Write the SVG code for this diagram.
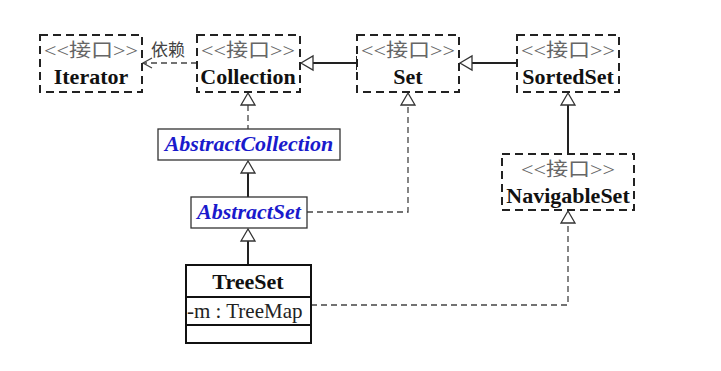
<svg xmlns="http://www.w3.org/2000/svg" width="721" height="371" viewBox="0 0 721 371">
  <defs>
    <style>
      .iface { fill: #fff; stroke: #222; stroke-width: 2; stroke-dasharray: 8 5; }
      .cls { fill: #fff; stroke: #333; stroke-width: 1.3; }
      .concrete { fill: #fff; stroke: #111; stroke-width: 2; }
      .stereo { font-family: "Liberation Serif", "Noto Sans CJK SC", serif; font-size: 19px; fill: #666; text-anchor: middle; }
      .name { font-family: "Liberation Serif", serif; font-size: 22px; font-weight: bold; fill: #111; text-anchor: middle; }
      .abstract { font-family: "Liberation Serif", serif; font-size: 22px; font-weight: bold; font-style: italic; fill: #1a1acc; text-anchor: middle; }
      .attr { font-family: "Liberation Serif", serif; font-size: 21px; fill: #222; }
      .label { font-family: "Liberation Serif", "Noto Sans CJK SC", serif; font-size: 17px; fill: #444; }
      .solid { fill: none; stroke: #222; stroke-width: 2; }
      .dashed { fill: none; stroke: #444; stroke-width: 1.3; stroke-dasharray: 6 4; }
      .tri { fill: #fff; stroke: #333; stroke-width: 1.3; }
    </style>
    <marker id="dep" markerWidth="12" markerHeight="12" refX="10" refY="6" orient="auto" markerUnits="userSpaceOnUse">
      <path d="M1,1 L10,6 L1,11" fill="none" stroke="#444" stroke-width="1.3"/>
    </marker>
  </defs>

  <!-- connectors -->
  <g id="connectors">
    <!-- Collection depends on Iterator -->
    <line class="dashed" x1="197" y1="63" x2="143" y2="63" marker-end="url(#dep)"/>
    <text class="label" x="151" y="56">依赖</text>
    <!-- Set extends Collection -->
    <line class="solid" x1="313" y1="63" x2="357" y2="63"/>
    <line x1="357" y1="56" x2="357" y2="70" stroke="#222" stroke-width="2"/>
    <path class="tri" d="M301,63 L313,56 L313,70 Z"/>
    <!-- SortedSet extends Set -->
    <line class="solid" x1="472" y1="63" x2="517" y2="63"/>
    <path class="tri" d="M460,63 L472,56 L472,70 Z"/>
    <!-- AbstractCollection implements Collection -->
    <line class="dashed" x1="248" y1="105" x2="248" y2="129"/>
    <path class="tri" d="M248,93 L241,105 L255,105 Z"/>
    <!-- AbstractSet extends AbstractCollection -->
    <line class="solid" x1="248" y1="173" x2="248" y2="197"/>
    <path class="tri" d="M248,161 L241,173 L255,173 Z"/>
    <!-- AbstractSet implements Set -->
    <polyline class="dashed" points="307,212 408,212 408,105"/>
    <path class="tri" d="M408,93 L401,105 L415,105 Z"/>
    <!-- TreeSet extends AbstractSet -->
    <line class="solid" x1="248" y1="241" x2="248" y2="265"/>
    <path class="tri" d="M248,229 L241,241 L255,241 Z"/>
    <!-- TreeSet implements NavigableSet -->
    <polyline class="dashed" points="311,305 568,305 568,223"/>
    <path class="tri" d="M568,211 L561,223 L575,223 Z"/>
    <!-- NavigableSet extends SortedSet -->
    <line class="solid" x1="568" y1="105" x2="568" y2="154"/>
    <path class="tri" d="M568,93 L561,105 L575,105 Z"/>
  </g>

  <g id="Iterator">
    <rect class="iface" x="40" y="35" width="102" height="57"/>
    <text class="stereo" x="91" y="57" textLength="94" lengthAdjust="spacingAndGlyphs">&lt;&lt;接口&gt;&gt;</text>
    <text class="name" x="91" y="84">Iterator</text>
  </g>

  <g id="Collection">
    <rect class="iface" x="197" y="35" width="103" height="57"/>
    <text class="stereo" x="248" y="57" textLength="94" lengthAdjust="spacingAndGlyphs">&lt;&lt;接口&gt;&gt;</text>
    <text class="name" x="248" y="84">Collection</text>
  </g>

  <g id="Set">
    <rect class="iface" x="357" y="35" width="102" height="57"/>
    <text class="stereo" x="408" y="57" textLength="94" lengthAdjust="spacingAndGlyphs">&lt;&lt;接口&gt;&gt;</text>
    <text class="name" x="408" y="84">Set</text>
  </g>

  <g id="SortedSet">
    <rect class="iface" x="517" y="35" width="102" height="57"/>
    <text class="stereo" x="568" y="57" textLength="94" lengthAdjust="spacingAndGlyphs">&lt;&lt;接口&gt;&gt;</text>
    <text class="name" x="568" y="84">SortedSet</text>
  </g>

  <g id="AbstractCollection">
    <rect class="cls" x="158" y="129" width="182" height="31"/>
    <text class="abstract" x="249" y="151">AbstractCollection</text>
  </g>

  <g id="AbstractSet">
    <rect class="cls" x="191" y="197" width="116" height="31"/>
    <text class="abstract" x="249" y="219">AbstractSet</text>
  </g>

  <g id="NavigableSet">
    <rect class="iface" x="502" y="154" width="132" height="56"/>
    <text class="stereo" x="568" y="176" textLength="94" lengthAdjust="spacingAndGlyphs">&lt;&lt;接口&gt;&gt;</text>
    <text class="name" x="568" y="203">NavigableSet</text>
  </g>

  <g id="TreeSet">
    <rect class="concrete" x="186" y="265" width="125" height="78"/>
    <line x1="186" y1="297" x2="311" y2="297" stroke="#111" stroke-width="2"/>
    <line x1="186" y1="325" x2="311" y2="325" stroke="#111" stroke-width="2"/>
    <text class="name" x="248" y="289">TreeSet</text>
    <text class="attr" x="187" y="318">-m : TreeMap</text>
  </g>
</svg>
